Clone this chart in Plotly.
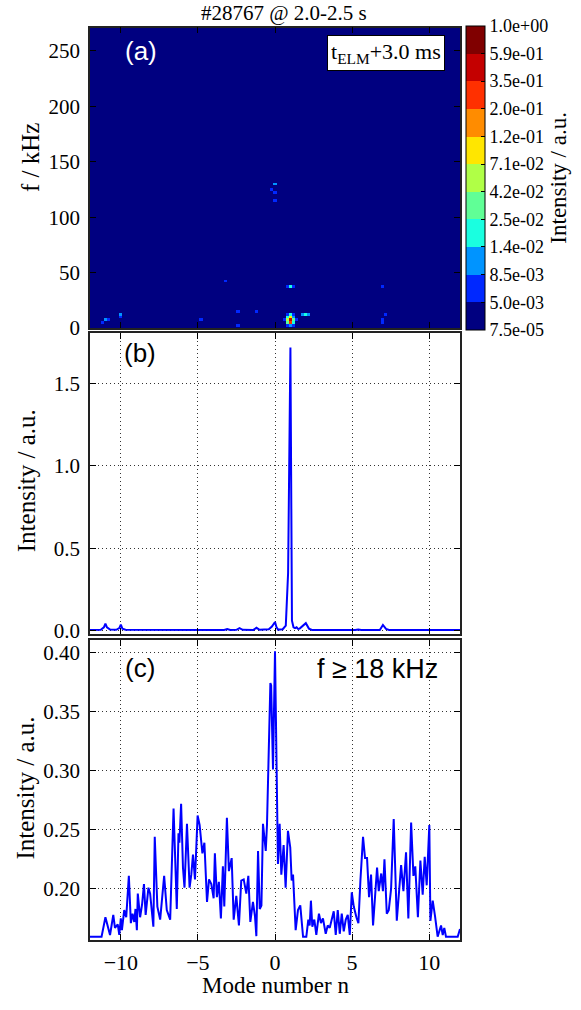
import numpy as np
import plotly.graph_objects as go

# ---------------- data ----------------
# (a) spectrogram: colour levels and bright spots (mode number n, frequency f [kHz], intensity)
level_bounds = [7.5e-5, 5.0e-3, 8.5e-3, 1.4e-2, 2.5e-2, 4.2e-2, 7.1e-2, 1.2e-1, 2.0e-1, 3.5e-1, 5.9e-1, 1.0]
level_labels = ["7.5e-05", "5.0e-03", "8.5e-03", "1.4e-02", "2.5e-02", "4.2e-02",
                "7.1e-02", "1.2e-01", "2.0e-01", "3.5e-01", "5.9e-01", "1.0e+00"]
band_colors = ["#000080", "#0028ff", "#0094ff", "#1affe0", "#60ff96", "#b0ff46",
               "#ffe600", "#ff8c00", "#ff3000", "#c40000", "#800000"]
background_intensity = 1e-4
spot_n = [1.0, 1.0, 1.0, 0.8, 0.8, 1.2, 1.2, 0.8, 1.2, 1.0, 1.0, 0.8, 1.2, 0.8, 1.2, 0.6, 1.4,
          1.8, 2.0, 2.2,
          0.8, 1.0, 1.2, 7.0,
          -10.0, -10.0, -11.0, -11.2, -10.8,
          -4.8, -2.4, -2.4, -1.2, -3.2,
          7.0, 7.0, 7.2,
          0.0, 0.0, 0.0, -0.2]
spot_f = [5.0, 7.5, 10.0, 7.5, 5.0, 7.5, 5.0, 10.0, 10.0, 12.5, 2.5, 12.5, 12.5, 2.5, 2.5, 7.5, 7.5,
          12.5, 12.5, 12.5,
          37.5, 37.5, 37.5, 37.5,
          12.5, 10.0, 7.5, 5.0, 7.5,
          7.5, 2.5, 15.0, 15.0, 42.5,
          7.5, 5.0, 12.5,
          130.0, 122.5, 115.0, 125.0]
spot_val = [0.30, 0.45, 0.09, 0.05, 0.03, 0.03, 0.016, 0.016, 0.011, 0.016, 0.011, 0.007, 0.007, 0.007, 0.007, 0.007, 0.006,
            0.011, 0.018, 0.011,
            0.007, 0.016, 0.007, 0.007,
            0.011, 0.006, 0.009, 0.007, 0.006,
            0.006, 0.006, 0.006, 0.006, 0.006,
            0.006, 0.006, 0.006,
            0.011, 0.007, 0.006, 0.006]

# (b) total intensity vs mode number
b_n = [-12.0, -11.3, -11.1, -11.0, -10.9, -10.7, -10.3, -10.1, -10.0, -9.9, -9.7, -5.0, -4.8, -4.6,
       -3.3, -3.1, -2.9, -2.5, -2.3, -2.1, -1.4, -1.2, -1.0, -0.4, -0.2, 0.0, 0.1, 0.2, 0.5, 0.7,
       0.85, 1.0, 1.1, 1.2, 1.3, 1.4, 1.5, 1.6, 1.75, 2.0, 2.2, 2.4, 5.2, 5.4, 5.6, 6.8, 7.0, 7.2,
       7.4, 12.0]
b_val = [0.004, 0.005, 0.02, 0.042, 0.02, 0.006, 0.005, 0.015, 0.036, 0.012, 0.005, 0.004, 0.008,
         0.004, 0.004, 0.009, 0.004, 0.005, 0.015, 0.005, 0.004, 0.017, 0.005, 0.008, 0.025, 0.052,
         0.02, 0.006, 0.008, 0.03, 0.35, 1.72, 0.06, 0.02, 0.015, 0.02, 0.01, 0.012, 0.025, 0.045,
         0.012, 0.004, 0.004, 0.007, 0.004, 0.004, 0.034, 0.01, 0.004, 0.004]

# (c) intensity for f >= 18 kHz
c_n = [-12.0, -11.25, -11.0, -10.7, -10.49, -10.38, -10.2, -10.1, -10.0, -9.93, -9.78, -9.65, -9.48,
       -9.35, -9.24, -9.13, -9.05, -8.96, -8.9, -8.75, -8.62, -8.5, -8.39, -8.21, -8.1, -7.89, -7.8,
       -7.63, -7.45, -7.19, -7.02, -6.8, -6.58, -6.37, -6.26, -6.2, -6.09, -5.97, -5.87, -5.71, -5.54,
       -5.43, -5.32, -5.19, -5.02, -4.89, -4.71, -4.58, -4.41, -4.28, -4.13, -3.98, -3.9, -3.77, -3.64,
       -3.51, -3.38, -3.29, -3.12, -2.99, -2.81, -2.68, -2.51, -2.34, -2.19, -2.03, -1.86, -1.73, -1.6,
       -1.43, -1.3, -1.21, -1.1, -0.99, -0.88, -0.78, -0.6, -0.52, -0.3, -0.25, -0.13, 0.0, 0.19, 0.3,
       0.41, 0.56, 0.69, 0.84, 0.99, 1.08, 1.17, 1.34, 1.49, 1.64, 1.82, 2.03, 2.16, 2.25, 2.33, 2.42,
       2.55, 2.68, 2.85, 2.98, 3.11, 3.29, 3.42, 3.55, 3.68, 3.81, 3.94, 4.07, 4.2, 4.33, 4.46, 4.59,
       4.72, 4.85, 4.98, 5.11, 5.28, 5.41, 5.54, 5.71, 5.84, 5.97, 6.1, 6.23, 6.36, 6.49, 6.62, 6.73,
       6.89, 7.0, 7.1, 7.25, 7.38, 7.53, 7.7, 7.9, 8.03, 8.18, 8.33, 8.5, 8.65, 8.83, 8.98, 9.1, 9.27,
       9.43, 9.58, 9.71, 9.84, 10.01, 10.08, 10.23, 10.38, 10.55, 10.77, 10.88, 10.98, 11.09, 11.85, 12.0]
c_val = [0.1595, 0.1595, 0.176, 0.161, 0.178, 0.167, 0.170, 0.161, 0.175, 0.165, 0.182, 0.176, 0.211,
         0.171, 0.179, 0.172, 0.183, 0.165, 0.196, 0.176, 0.187, 0.204, 0.178, 0.201, 0.196, 0.168, 0.244,
         0.185, 0.174, 0.211, 0.182, 0.174, 0.268, 0.183, 0.247, 0.239, 0.272, 0.218, 0.201, 0.255, 0.201,
         0.212, 0.229, 0.208, 0.262, 0.254, 0.230, 0.239, 0.189, 0.208, 0.204, 0.192, 0.230, 0.193, 0.206,
         0.175, 0.219, 0.185, 0.260, 0.215, 0.226, 0.174, 0.194, 0.169, 0.207, 0.208, 0.196, 0.211, 0.172,
         0.189, 0.177, 0.160, 0.232, 0.183, 0.186, 0.255, 0.232, 0.254, 0.374, 0.372, 0.301, 0.401, 0.221, 0.255,
         0.212, 0.237, 0.201, 0.249, 0.235, 0.207, 0.212, 0.165, 0.182, 0.186, 0.1595, 0.1595, 0.174, 0.169, 0.190, 0.168,
         0.174, 0.161, 0.179, 0.171, 0.175, 0.162, 0.169, 0.167, 0.174, 0.181, 0.161, 0.182, 0.162, 0.179, 0.164, 0.174,
         0.178, 0.161, 0.197, 0.185, 0.176, 0.171, 0.207, 0.244, 0.226, 0.226, 0.193, 0.212, 0.169, 0.194, 0.218, 0.198,
         0.213, 0.198, 0.225, 0.179, 0.182, 0.200, 0.259, 0.173, 0.195, 0.220, 0.198, 0.231, 0.175, 0.256, 0.211, 0.219, 0.176,
         0.224, 0.195, 0.227, 0.203, 0.254, 0.173, 0.190, 0.177, 0.1595, 0.169, 0.161, 0.167, 0.1595, 0.1595, 0.166]

x_ticks = [-10, -5, 0, 5, 10]

# ---------------- build heatmap grid from spots ----------------
grid_n = np.round(np.arange(-12.0, 12.0001, 0.2), 2)
grid_f = np.arange(0.0, 272.5, 2.5)
z_int = np.full((len(grid_f), len(grid_n)), background_intensity)
for n, f, v in zip(spot_n, spot_f, spot_val):
    i = int(np.argmin(np.abs(grid_f - f)))
    j = int(np.argmin(np.abs(grid_n - n)))
    z_int[i, j] = v
levels = np.clip(np.searchsorted(level_bounds, z_int, side="right") - 1, 0, len(band_colors) - 1)
z_lvl = levels + 0.5

nb = len(band_colors)
colorscale = []
for k, c in enumerate(band_colors):
    colorscale.append([k / nb, c])
    colorscale.append([(k + 1) / nb, c])

W, H = 581, 1010
def px(x):
    return x / W
def py(y):
    return 1 - y / H

SERIF = "Liberation Serif"
SANS = "Liberation Sans"

fig = go.Figure()
fig.add_trace(go.Heatmap(
    x=grid_n, y=grid_f, z=z_lvl, zmin=0, zmax=nb, colorscale=colorscale,
    xaxis="x", yaxis="y", hoverinfo="skip",
    colorbar=dict(
        x=px(466), xanchor="left", xref="paper", xpad=0, ypad=0,
        y=py(180), yanchor="middle", len=304, lenmode="pixels", thickness=19,
        outlinewidth=1, outlinecolor="black",
        tickvals=list(range(nb + 1)), ticktext=level_labels,
        ticks="inside", ticklen=4, tickcolor="black",
        tickfont=dict(family=SERIF, size=18, color="black"),
        title=dict(text="Intensity / a.u.", side="right", font=dict(family=SERIF, size=23, color="black")),
    ),
))
fig.add_trace(go.Scatter(x=b_n, y=b_val, mode="lines", line=dict(color="#0000ff", width=2),
                         xaxis="x2", yaxis="y2", showlegend=False))
fig.add_trace(go.Scatter(x=c_n, y=c_val, mode="lines", line=dict(color="#0000ff", width=2),
                         xaxis="x3", yaxis="y3", showlegend=False))

dom_x = [px(90), px(460)]
common_ax = dict(showline=True, linecolor="#222222", linewidth=1.5, mirror="ticks",
                 ticks="inside", ticklen=6, tickcolor="black", zeroline=False)
grid_style = dict(showgrid=True, gridcolor="#333333", griddash="1px,3px", gridwidth=1)
tick_font = dict(family=SERIF, size=21, color="black")

fig.update_layout(
    width=W, height=H, margin=dict(l=0, r=0, t=0, b=0),
    paper_bgcolor="white", plot_bgcolor="white", showlegend=False,
    xaxis=dict(domain=dom_x, anchor="y", range=[-12, 12], tickvals=x_ticks, showticklabels=False,
               showgrid=False, **common_ax),
    yaxis=dict(domain=[py(332), py(28)], anchor="x", range=[0, 271], tickvals=[0, 50, 100, 150, 200, 250],
               showgrid=False, tickfont=tick_font, ticklabelstandoff=4, **common_ax),
    xaxis2=dict(domain=dom_x, anchor="y2", range=[-12, 12], tickvals=x_ticks, showticklabels=False,
                **grid_style, **common_ax),
    yaxis2=dict(domain=[py(641.5), py(337.5)], anchor="x2", range=[-0.02, 1.805], tickvals=[0.0, 0.5, 1.0, 1.5],
                tickformat=".1f", tickfont=tick_font, ticklabelstandoff=4, **grid_style, **common_ax),
    xaxis3=dict(domain=dom_x, anchor="y3", range=[-12, 12], tickvals=x_ticks,
                tickfont=dict(family=SERIF, size=22, color="black"), ticklabelstandoff=2,
                **grid_style, **common_ax),
    yaxis3=dict(domain=[py(951), py(647.5)], anchor="x3", range=[0.157, 0.4106],
                tickvals=[0.20, 0.25, 0.30, 0.35, 0.40], tickformat=".2f",
                tickfont=tick_font, ticklabelstandoff=4, **grid_style, **common_ax),
)

ann = [
    dict(text="#28767 @ 2.0-2.5 s", x=px(284), y=py(13), font=dict(family=SERIF, size=21)),
    dict(text="f / kHz", x=px(30), y=py(160), textangle=-90, font=dict(family=SERIF, size=25)),
    dict(text="Intensity / a.u.", x=px(26), y=py(487), textangle=-90, font=dict(family=SERIF, size=25)),
    dict(text="Intensity / a.u.", x=px(26), y=py(798), textangle=-90, font=dict(family=SERIF, size=25)),
    dict(text="Mode number n", x=px(275), y=py(997), font=dict(family=SERIF, size=23)),
    dict(text="(a)", x=px(141), y=py(52), font=dict(family=SANS, size=26, color="white")),
    dict(text="(b)", x=px(140), y=py(357), font=dict(family=SANS, size=26)),
    dict(text="(c)", x=px(140), y=py(676), font=dict(family=SANS, size=26)),
    dict(text="f ≥ 18 kHz", x=px(377), y=py(677), font=dict(family=SANS, size=27)),
    dict(text="t<sub>ELM</sub>+3.0 ms", x=px(386), y=py(54), font=dict(family=SERIF, size=22),
         bgcolor="white", bordercolor="black", borderwidth=1, borderpad=3),
]
for a in ann:
    a.setdefault("font", {})
    a["font"].setdefault("color", "black")
    fig.add_annotation(xref="paper", yref="paper", showarrow=False, xanchor="center", yanchor="middle", **a)

fig.write_html("out.html", config={"displayModeBar": False},
               post_script="document.body.style.margin='0px';document.body.style.padding='0px';")
